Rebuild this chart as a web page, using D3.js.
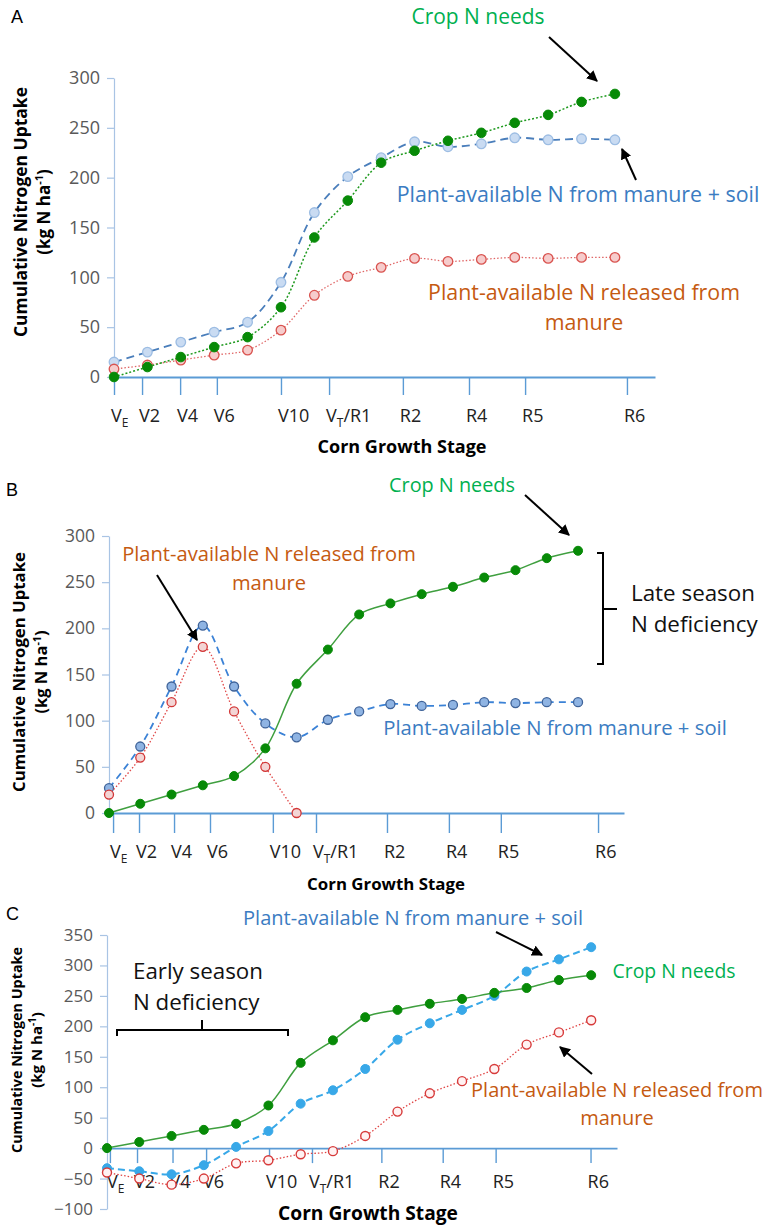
<!DOCTYPE html>
<html>
<head>
<meta charset="utf-8">
<script src="https://cdn.jsdelivr.net/npm/d3@7"></script>
<style>
  html, body { margin: 0; padding: 0; background: #fff; }
  svg { display: block; font-family: "Open Sans", "Liberation Sans", sans-serif; }
</style>
</head>
<body>
<div id="chart"></div>
<script>
// growth stage tick labels ("_X" = one subscript char)
const stageLabels = ["V_E", "V2", "V4", "V6", "V10", "V_T/R1", "R2", "R4", "R5", "R6"];

// tick positions in sample units, each panel was drawn a bit differently
const stageTicksA = [0, 0.84, 1.98, 3.08, 5.0, 6.44, 8.65, 10.63, 12.31, 15.36];
const stageTicksB = [0.13, 0.96, 2.08, 3.23, 5.24, 6.62, 8.89, 10.87, 12.53, 15.64];
const stageTicksC = [0.09, 0.93, 2.03, 3.07, 5.02, 6.35, 8.5, 10.4, 12.04, 14.98];

const samples = [0, 1, 2, 3, 4, 5, 6, 7, 8, 9, 10, 11, 12, 13, 14, 15];

// kg N / ha
const cropNeeds = [0, 10, 20, 30, 40, 70, 140, 177, 215, 227, 237, 245, 255, 263, 276, 284];

const manureSoilA = [15, 25, 35, 45, 55, 95, 165, 201, 220, 236, 231, 234, 240, 238, 239, 238];
const manureA = [8, 12, 17, 22, 27, 47, 82, 101, 110, 119, 116, 118, 120, 119, 120, 120];

const manureSoilB = [27, 72, 137, 203, 137, 97, 82, 101, 110, 118, 116, 117, 120, 119, 120, 120];
const manureB = [20, 60, 120, 180, 110, 50, 0];

const manureSoilC = [-33, -38, -43, -28, 2, 28, 73, 95, 130, 178, 205, 227, 250, 290, 310, 330];
const manureC = [-40, -50, -60, -50, -25, -20, -10, -5, 20, 60, 90, 110, 130, 170, 190, 210];

const yTicksAB = [0, 50, 100, 150, 200, 250, 300];
const yTicksC = [-100, -50, 0, 50, 100, 150, 200, 250, 300, 350];

const GREEN_TXT = "#00b050", BLUE_TXT = "#3b7cc2", ORANGE_TXT = "#c55a11";

const svg = d3.select("#chart").append("svg")
    .attr("width", 767)
    .attr("height", 1226);

const defs = svg.append("defs");
defs.append("marker")
    .attr("id", "arrow")
    .attr("viewBox", "0 0 10 10")
    .attr("refX", 9).attr("refY", 5)
    .attr("markerWidth", 5.5).attr("markerHeight", 5.5)
    .attr("markerUnits", "strokeWidth")
    .attr("orient", "auto")
    .append("path")
    .attr("d", "M0,0 L10,5 L0,10 z")
    .attr("fill", "#000");

// scale a text's font so it is `target` px wide
function fitFont(sel, base, target) {
    sel.style("font-size", base + "px");
    const w = sel.node().getComputedTextLength();
    const fs = base * target / w;
    sel.style("font-size", fs + "px");
    return fs;
}

function drawPanel(cfg) {
    const x = d3.scaleLinear().domain([0, cfg.xEnd]).range(cfg.xRange);
    const y = d3.scaleLinear().domain(cfg.yDomain).range(cfg.yRange);
    const g = svg.append("g");

    // y axis
    const yAxis = g.append("g")
        .attr("transform", `translate(${x(0)},0)`)
        .call(d3.axisLeft(y).tickValues(cfg.yTicks).tickSize(7).tickSizeOuter(0).tickPadding(7));
    yAxis.select(".domain").attr("stroke", "#a9c4e4").attr("stroke-width", 1.2);
    yAxis.selectAll(".tick line").attr("stroke", "#a9c4e4").attr("stroke-width", 1.2);
    yAxis.selectAll(".tick text")
        .attr("fill", "#595959")
        .style("font-size", cfg.yFont + "px")
        .style("font-family", "Open Sans, sans-serif");

    // x axis at zero
    const xAxis = g.append("g")
        .attr("transform", `translate(0,${y(0)})`)
        .call(d3.axisBottom(x).tickValues(cfg.ticks).tickSize(cfg.tickLen).tickSizeOuter(0).tickFormat(""));
    xAxis.select(".domain").attr("stroke", "#5b9bd5").attr("stroke-width", 1.8);
    xAxis.selectAll(".tick line").attr("stroke", "#5b9bd5").attr("stroke-width", 1.4);

    // stage labels
    cfg.ticks.forEach((t, i) => {
        const lab = stageLabels[i];
        const txt = g.append("text")
            .attr("x", x(t) - 3)
            .attr("y", y(0) + cfg.labelDy)
            .attr("fill", "#222")
            .style("font-size", "18px");
        const parts = lab.split("_");
        txt.append("tspan").text(parts[0]);
        if (parts.length > 1) {
            txt.append("tspan").text(parts[1][0])
                .attr("dy", 5).style("font-size", "12px");
            if (parts[1].length > 1) {
                txt.append("tspan").text(parts[1].slice(1)).attr("dy", -5);
            }
        }
    });

    // series
    cfg.series.forEach(s => {
        const pts = s.values.map((v, i) => [samples[i], v]);
        g.append("path")
            .datum(pts)
            .attr("fill", "none")
            .attr("stroke", s.line)
            .attr("stroke-width", s.width)
            .attr("stroke-dasharray", s.dash)
            .attr("d", d3.line()
                .x(d => x(d[0]))
                .y(d => y(d[1]))
                .curve(d3.curveCatmullRom.alpha(0.5)));
        g.append("g")
            .selectAll("circle")
            .data(pts)
            .enter()
            .append("circle")
            .attr("cx", d => x(d[0]))
            .attr("cy", d => y(d[1]))
            .attr("r", s.r)
            .attr("fill", s.fill)
            .attr("stroke", s.stroke)
            .attr("stroke-width", s.sw);
    });

    // axis titles
    const xt = g.append("text")
        .attr("x", cfg.xTitle[0]).attr("y", cfg.xTitle[1])
        .attr("text-anchor", "middle")
        .style("font-weight", "bold")
        .text("Corn Growth Stage");
    fitFont(xt, 16, cfg.xTitleLen);

    // y title: squeezed a little, the original face is narrower
    const fs = cfg.yTitleFont;
    const yl = g.append("g")
        .attr("transform", `translate(${cfg.yTitle[0]},${cfg.yTitle[1]}) rotate(-90)`);
    yl.append("text")
        .attr("text-anchor", "middle")
        .attr("textLength", cfg.yTitleLen)
        .attr("lengthAdjust", "spacingAndGlyphs")
        .style("font-weight", "bold")
        .style("font-size", fs + "px")
        .text("Cumulative Nitrogen Uptake");
    const l2 = yl.append("text")
        .attr("y", fs * 1.35)
        .attr("text-anchor", "middle")
        .style("font-weight", "bold")
        .style("font-size", fs + "px");
    l2.append("tspan").text("(kg N ha");
    l2.append("tspan").text("-1").attr("dy", -fs * 0.4).style("font-size", (fs * 0.65) + "px");
    l2.append("tspan").text(")").attr("dy", fs * 0.4);

    // panel letter
    g.append("text")
        .attr("x", cfg.letter[0]).attr("y", cfg.letter[1])
        .style("font-size", "18px")
        .style("font-family", "Liberation Sans, Arial, sans-serif")
        .text(cfg.name);

    return g;
}

// lines of annotation text; the first line is fitted to `width`
function label(lines, cx, cy, color, width, anchor) {
    const t = svg.append("text")
        .attr("fill", color)
        .attr("text-anchor", anchor || "middle");
    const first = t.append("tspan").attr("x", cx).attr("y", cy)
        .attr("dominant-baseline", "middle").text(lines[0]);
    t.style("font-size", "20px");
    const fs = 20 * width / first.node().getComputedTextLength();
    t.style("font-size", fs + "px");
    lines.slice(1).forEach((ln, i) => {
        t.append("tspan").attr("x", cx).attr("y", cy + (i + 1) * fs * 1.4)
            .attr("dominant-baseline", "middle").text(ln);
    });
}

function arrow(x1, y1, x2, y2) {
    svg.append("line")
        .attr("x1", x1).attr("y1", y1).attr("x2", x2).attr("y2", y2)
        .attr("stroke", "#000").attr("stroke-width", 2)
        .attr("marker-end", "url(#arrow)");
}

const green = { values: cropNeeds, r: 4.8, fill: "#078a07", stroke: "#078a07", sw: 1 };

// ---------- A ----------
drawPanel({
    name: "A", letter: [11, 23],
    xEnd: 16.2, xRange: [114, 655],
    yDomain: [0, 300], yRange: [377, 78], yTicks: yTicksAB, yFont: 18,
    ticks: stageTicksA, tickLen: 18, labelDy: 45,
    xTitle: [402, 453], xTitleLen: 169,
    yTitle: [27, 212], yTitleLen: 250, yTitleFont: 17,
    series: [
        { values: manureSoilA, line: "#4a7ebb", width: 1.8, dash: "8,5", r: 4.8, fill: "#c9dbf2", stroke: "#9dbde3", sw: 1.3 },
        { values: manureA, line: "#e06666", width: 1.3, dash: "1.5,2", r: 4.8, fill: "#f6cccc", stroke: "#d9534f", sw: 1.3 },
        Object.assign({}, green, { line: "#1f9a1f", width: 1.5, dash: "2,2" })
    ]
});
label(["Crop N needs"], 478, 18, GREEN_TXT, 133);
arrow(549, 37, 597, 81);
label(["Plant-available N from manure + soil"], 578, 196, BLUE_TXT, 363);
arrow(636, 180, 622, 149);
label(["Plant-available N released from", "manure"], 584, 294, ORANGE_TXT, 312);

// ---------- B ----------
drawPanel({
    name: "B", letter: [6, 496],
    xEnd: 16.47, xRange: [109, 624],
    yDomain: [0, 300], yRange: [813, 536], yTicks: yTicksAB, yFont: 17.5,
    ticks: stageTicksB, tickLen: 20, labelDy: 45,
    xTitle: [386, 890], xTitleLen: 158,
    yTitle: [25, 672], yTitleLen: 240, yTitleFont: 16.5,
    series: [
        { values: manureSoilB, line: "#3b82d6", width: 1.8, dash: "7,5", r: 4.5, fill: "#8fb4e3", stroke: "#3f6399", sw: 1.3 },
        { values: manureB, line: "#e04848", width: 1.3, dash: "1.5,2", r: 4.5, fill: "#f3d5d5", stroke: "#d23636", sw: 1.3 },
        Object.assign({}, green, { r: 4.5, line: "#3f9f3f", width: 1.5, dash: null })
    ]
});
label(["Crop N needs"], 452, 487, GREEN_TXT, 126);
arrow(525, 495, 569, 535);
label(["Plant-available N released from", "manure"], 269, 556, ORANGE_TXT, 294);
arrow(157, 575, 197, 640);
label(["Plant-available N from manure + soil"], 555, 730, BLUE_TXT, 344);
svg.append("path")
    .attr("d", "M597,553 H603 V664 H597 M603,609 H617")
    .attr("fill", "none").attr("stroke", "#000").attr("stroke-width", 2);
label(["Late season", "N deficiency"], 631, 595, "#111", 124, "start");

// ---------- C ----------
drawPanel({
    name: "C", letter: [6, 920],
    xEnd: 15.8, xRange: [107, 617],
    yDomain: [-100, 350], yRange: [1209, 935], yTicks: yTicksC, yFont: 17,
    ticks: stageTicksC, tickLen: 15, labelDy: 40,
    xTitle: [368, 1220], xTitleLen: 180,
    yTitle: [22, 1050], yTitleLen: 206, yTitleFont: 15,
    series: [
        { values: manureSoilC, line: "#38a8e8", width: 2, dash: "7,4", r: 4.5, fill: "#38a8e8", stroke: "#38a8e8", sw: 1 },
        { values: manureC, line: "#e04545", width: 1.3, dash: "1.5,2", r: 4.5, fill: "#fff2f2", stroke: "#d73a3a", sw: 1.4 },
        Object.assign({}, green, { r: 4.5, line: "#3f9f3f", width: 1.5, dash: null })
    ]
});
label(["Plant-available N from manure + soil"], 413, 920, BLUE_TXT, 340);
arrow(496, 932, 542, 955);
label(["Crop N needs"], 674, 973, GREEN_TXT, 123);
label(["Plant-available N released from", "manure"], 617, 1092, ORANGE_TXT, 292);
arrow(592, 1074, 560, 1047);
label(["Early season", "N deficiency"], 133, 973, "#111", 130, "start");
svg.append("path")
    .attr("d", "M117,1036 V1030 H288 V1036 M202,1030 V1020")
    .attr("fill", "none").attr("stroke", "#000").attr("stroke-width", 2);
</script>
</body>
</html>
